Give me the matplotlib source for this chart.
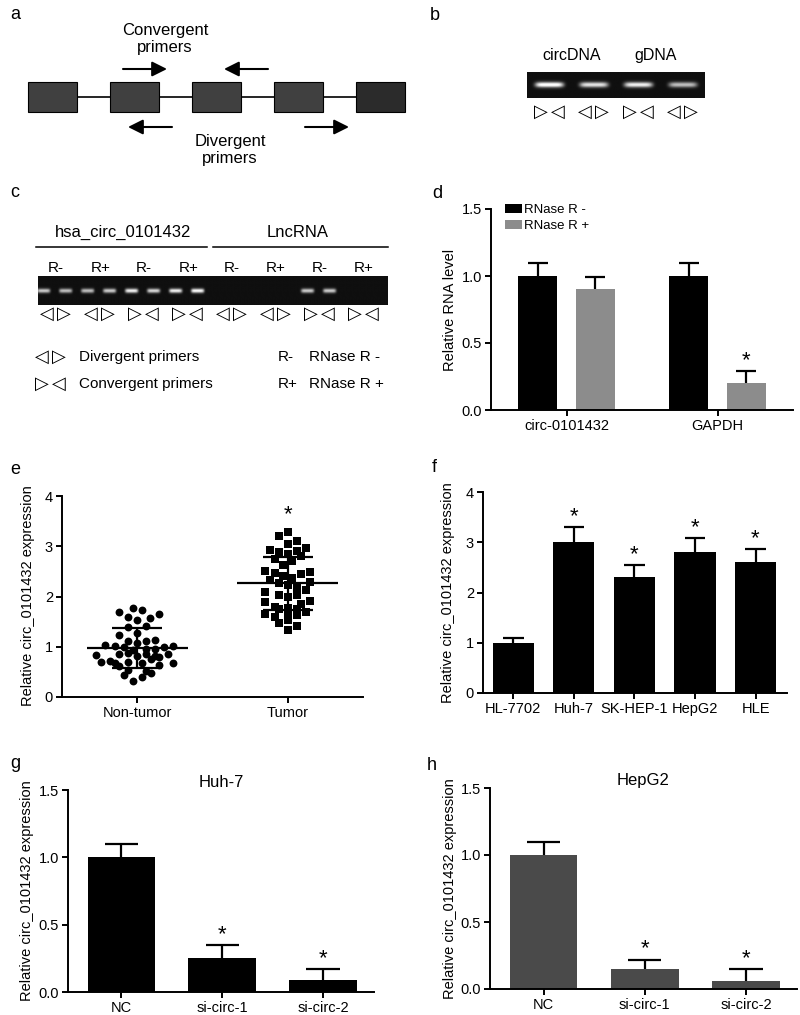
import numpy as np
import matplotlib
matplotlib.use("Agg")
import matplotlib.pyplot as plt
from matplotlib.patches import Rectangle

plt.rcParams["font.family"] = ["Liberation Sans", "DejaVu Sans"]

W, H = 800, 1015

# ---------------- data ----------------
exon_shades = ["#404040", "#404040", "#404040", "#404040", "#2b2b2b"]

gel_b_labels = ["circDNA", "gDNA"]
gel_b_bands = [1.0, 0.85, 0.9, 0.7]
gel_b_primers = ["▷◁", "◁▷", "▷◁", "◁▷"]

gel_c_groups = ["hsa_circ_0101432", "LncRNA"]
gel_c_treat = ["R-", "R+", "R-", "R+", "R-", "R+", "R-", "R+"]
gel_c_primers = ["◁▷", "◁▷", "▷◁", "▷◁", "◁▷", "◁▷", "▷◁", "▷◁"]
gel_c_bands = [0.75, 0.7, 0.7, 0.75, 0.9, 0.8, 0.9, 0.95,
               0, 0, 0, 0, 0.75, 0.75, 0, 0]

d_genes = ["circ-0101432", "GAPDH"]
d_minus = [1.0, 1.0]
d_minus_err = [0.10, 0.10]
d_plus = [0.90, 0.20]
d_plus_err = [0.09, 0.09]
d_sig = [False, True]

e_groups = ["Non-tumor", "Tumor"]
e_nontumor = [1.70, 1.78, 1.73, 1.65, 1.59, 1.58, 1.54, 1.39, 1.41, 1.23,
              1.27, 1.11, 1.14, 1.07, 1.11, 1.03, 1.01, 0.99, 0.94, 0.96,
              0.96, 0.99, 1.01, 0.84, 0.86, 0.88, 0.82, 0.86, 0.81, 0.85,
              0.70, 0.71, 0.68, 0.70, 0.68, 0.75, 0.80, 0.68, 0.61, 0.54,
              0.51, 0.48, 0.63, 0.43, 0.40, 0.32]
e_nontumor_jitter = [-0.12, -0.031, 0.029, 0.147, -0.06, 0.084, 0.0, -0.06, 0.058, -0.12,
                     0.0, -0.06, 0.118, 0.0, 0.058, -0.211, -0.151, -0.091, -0.031, 0.058,
                     0.118, 0.178, 0.24, -0.271, -0.12, -0.06, 0.0, 0.058, 0.118, 0.207,
                     -0.242, -0.182, -0.151, -0.06, 0.029, 0.089, 0.147, 0.24, -0.12, -0.06,
                     0.058, 0.089, 0.147, -0.091, 0.029, -0.031]
e_tumor = [3.28, 3.20, 3.10, 3.05, 2.93, 2.89, 2.97, 2.85, 2.90, 2.80,
           2.75, 2.70, 2.62, 2.50, 2.47, 2.44, 2.49, 2.40, 2.37, 2.32,
           2.26, 2.22, 2.29, 2.18, 2.12, 2.08, 2.02, 1.99, 2.02, 1.91,
           1.89, 1.80, 1.77, 1.76, 1.86, 1.76, 1.69, 1.66, 1.59, 1.63,
           1.63, 1.47, 1.53, 1.41, 1.33]
e_tumor_jitter = [0.0, -0.06, 0.062, 0.0, -0.12, -0.06, 0.122, 0.0, 0.062, 0.091,
                  -0.087, 0.031, -0.031, -0.149, -0.087, 0.091, 0.151, -0.031, 0.031, -0.12,
                  -0.06, 0.0, 0.151, 0.062, 0.122, -0.149, -0.06, 0.0, 0.062, 0.151,
                  -0.149, -0.087, 0.0, -0.06, 0.091, 0.062, 0.122, -0.149, -0.087, 0.0,
                  0.062, -0.06, 0.0, 0.062, 0.0]
e_mean = [0.97, 2.26]
e_sd = [0.40, 0.535]
e_sig = [False, True]

f_cells = ["HL-7702", "Huh-7", "SK-HEP-1", "HepG2", "HLE"]
f_vals = [1.0, 3.0, 2.3, 2.8, 2.6]
f_err = [0.09, 0.30, 0.25, 0.28, 0.26]
f_sig = [False, True, True, True, True]

kd_groups = ["NC", "si-circ-1", "si-circ-2"]
g_vals = [1.0, 0.25, 0.09]
g_err = [0.10, 0.10, 0.08]
h_vals = [1.0, 0.15, 0.06]
h_err = [0.10, 0.07, 0.09]
kd_sig = [False, True, True]

YLABEL_EXPR = "Relative circ_0101432 expression"


# ---------------- helpers ----------------
def px_axes(fig, left, top, right, bottom):
    return fig.add_axes([left / W, 1 - bottom / H, (right - left) / W, (bottom - top) / H])


def prism_style(ax):
    for s in ("top", "right"):
        ax.spines[s].set_visible(False)
    for s in ("left", "bottom"):
        ax.spines[s].set_linewidth(1.4)
    ax.tick_params(direction="out", length=4.5, width=1.4, labelsize=10.5, pad=2)


def up_errors(ax, x, y, err, cap_half, sig=None):
    for i, (xi, yi, ei) in enumerate(zip(x, y, err)):
        ax.vlines(xi, yi, yi + ei, color="black", lw=1.6, zorder=1)
        ax.hlines(yi + ei, xi - cap_half, xi + cap_half, color="black", lw=1.6, zorder=1)
        if sig is not None and sig[i]:
            ax.annotate("*", (xi, yi + ei), xytext=(0, 0), textcoords="offset points",
                        ha="center", va="bottom", fontsize=16)


def ylabel_px(fig, x, y, text):
    fig.text(x / W, 1 - y / H, text, rotation=90, ha="center", va="center", fontsize=10.5)


def tri_pair(ax, x, y, pair):
    # two outlined triangles drawn a few pixels apart
    for ch, dx in zip(pair, (-8.5, 8.5)):
        ax.text(x + dx, y, ch, ha="center", va="center", fontsize=13,
                family=["DejaVu Sans"])


def make_gel(ax, bands, band_w, band_h, lane_pad):
    nrow, ncol = 60, 400
    img = np.full((nrow, ncol), 0.06)
    xs = np.arange(ncol)[None, :]
    ys = np.arange(nrow)[:, None]
    centers = np.linspace(lane_pad[0], ncol - lane_pad[1], len(bands))
    for c, amp in zip(centers, bands):
        img += amp * np.exp(-((xs - c) / band_w) ** 6) * np.exp(-((ys - nrow * 0.5) / band_h) ** 2)
    ax.imshow(np.clip(img, 0, 1), cmap="gray", vmin=0, vmax=1, aspect="auto",
              interpolation="bilinear")
    ax.set_xticks([])
    ax.set_yticks([])
    for s in ax.spines.values():
        s.set_visible(False)
    return centers / ncol


fig = plt.figure(figsize=(W / 100, H / 100), dpi=100)

# ---------------- overlay for schematic panels (pixel coordinates) ----------------
ov = fig.add_axes([0, 0, 1, 1])
ov.set_xlim(0, W)
ov.set_ylim(H, 0)
ov.set_axis_off()

for lab, (lx, ly) in zip("abcdefgh", [(10, 14), (430, 15), (10, 192), (432, 193),
                                      (10, 470), (432, 467), (10, 763), (427, 765)]):
    ov.text(lx, ly, lab, fontsize=13, ha="left", va="center")

# panel a
ex_w, ex_gap, ex_x0 = 49, 33, 28
ov.plot([ex_x0 + ex_w, ex_x0 + 4 * (ex_w + ex_gap)], [97, 97], color="black", lw=1.2, zorder=1)
for i, shade in enumerate(exon_shades):
    ov.add_patch(Rectangle((ex_x0 + i * (ex_w + ex_gap), 82), ex_w, 30,
                           facecolor=shade, edgecolor="black", lw=0.8, zorder=2))
arrow_kw = dict(arrowstyle="-|>,head_length=0.9,head_width=0.45", color="black", lw=1.5,
                shrinkA=0, shrinkB=0)
for (x0, y0, x1) in [(123, 69, 167), (268, 69, 224), (172, 127, 128), (305, 127, 349)]:
    ov.annotate("", xy=(x1, y0), xytext=(x0, y0), arrowprops=arrow_kw)
ov.text(165, 39, "Convergent\nprimers", ha="center", va="center", fontsize=12, linespacing=1.15)
ov.text(230, 150, "Divergent\nprimers", ha="center", va="center", fontsize=12, linespacing=1.15)

# panel b
gb = px_axes(fig, 527, 72, 705, 98)
cb = make_gel(gb, gel_b_bands, 32, 6, (50, 50))
ov.text(572, 55, gel_b_labels[0], ha="center", va="center", fontsize=11.5)
ov.text(656, 55, gel_b_labels[1], ha="center", va="center", fontsize=11.5)
for c, prm in zip(cb, gel_b_primers):
    tri_pair(ov, 527 + c * 178, 112, prm)

# panel c
gc = px_axes(fig, 38, 276, 388, 305)
cc = make_gel(gc, gel_c_bands, 7.5, 4.5, (6, 17))
lane_px = 38 + cc * 350
pair_px = (lane_px[0::2] + lane_px[1::2]) / 2
ov.text(123, 232, gel_c_groups[0], ha="center", va="center", fontsize=12)
ov.text(298, 232, gel_c_groups[1], ha="center", va="center", fontsize=12)
ov.plot([36, 207], [247, 247], color="black", lw=1.1)
ov.plot([213, 388], [247, 247], color="black", lw=1.1)
for px, tr, prm in zip(pair_px, gel_c_treat, gel_c_primers):
    ov.text(px + 2, 268, tr, ha="center", va="center", fontsize=11)
    tri_pair(ov, px + 1, 314, prm)
tri_pair(ov, 50, 357, "◁▷")
tri_pair(ov, 50, 384, "▷◁")
ov.text(79, 357, "Divergent primers", ha="left", va="center", fontsize=11)
ov.text(79, 384, "Convergent primers", ha="left", va="center", fontsize=11)
ov.text(278, 357, "R-", ha="left", va="center", fontsize=11)
ov.text(278, 384, "R+", ha="left", va="center", fontsize=11)
ov.text(309, 357, "RNase R -", ha="left", va="center", fontsize=11)
ov.text(309, 384, "RNase R +", ha="left", va="center", fontsize=11)

# ---------------- panel d ----------------
ax = px_axes(fig, 491, 209, 793, 410)
prism_style(ax)
xg = np.arange(len(d_genes))
bw, off = 0.26, 0.19
ax.bar(xg - off, d_minus, bw, color="black", label="RNase R -", zorder=2)
ax.bar(xg + off, d_plus, bw, color="#8c8c8c", label="RNase R +", zorder=2)
up_errors(ax, xg - off, d_minus, d_minus_err, bw / 4)
up_errors(ax, xg + off, d_plus, d_plus_err, bw / 4, sig=d_sig)
ax.set_xlim(-0.5, 1.5)
ax.set_ylim(0, 1.5)
ax.set_yticks([0, 0.5, 1.0, 1.5])
ax.set_yticklabels(["0.0", "0.5", "1.0", "1.5"])
ax.set_xticks(xg)
ax.set_xticklabels(d_genes)
ax.legend(loc="upper left", bbox_to_anchor=(0.03, 1.05), frameon=False, fontsize=9.5,
          handlelength=1.3, handleheight=0.7, handletextpad=0.1, labelspacing=0.25,
          borderaxespad=0)
ylabel_px(fig, 450, 310, "Relative RNA level")

# ---------------- panel e ----------------
ax = px_axes(fig, 62, 496, 363, 697)
prism_style(ax)
ax.scatter(0 + np.array(e_nontumor_jitter), e_nontumor, s=32, marker="o", color="black",
           linewidths=0, zorder=2)
ax.scatter(1 + np.array(e_tumor_jitter), e_tumor, s=32, marker="s", color="black",
           linewidths=0, zorder=2)
for i, (m, sd) in enumerate(zip(e_mean, e_sd)):
    ax.hlines(m, i - 0.335, i + 0.335, color="black", lw=1.6, zorder=3)
    ax.hlines([m - sd, m + sd], i - 0.167, i + 0.167, color="black", lw=1.6, zorder=3)
    ax.vlines(i, m - sd, m + sd, color="black", lw=1.6, zorder=3)
    if e_sig[i]:
        ax.text(i, 3.42, "*", ha="center", va="bottom", fontsize=16)
ax.set_xlim(-0.5, 1.5)
ax.set_ylim(0, 4)
ax.set_yticks([0, 1, 2, 3, 4])
ax.set_xticks([0, 1])
ax.set_xticklabels(e_groups)
ylabel_px(fig, 28, 596, YLABEL_EXPR)

# ---------------- panel f ----------------
ax = px_axes(fig, 483, 492, 787, 693)
prism_style(ax)
xf = np.arange(len(f_cells))
ax.bar(xf, f_vals, 0.68, color="black", zorder=2)
up_errors(ax, xf, f_vals, f_err, 0.17, sig=f_sig)
ax.set_xlim(-0.5, 4.52)
ax.set_ylim(0, 4)
ax.set_yticks([0, 1, 2, 3, 4])
ax.set_xticks(xf)
ax.set_xticklabels(f_cells)
ylabel_px(fig, 448, 593, YLABEL_EXPR)

# ---------------- panels g and h ----------------
for (l, t, r, b), vals, errs, color, title, ylx in [
        ((68, 790, 374, 992), g_vals, g_err, "black", "Huh-7", 27),
        ((490, 788, 797, 989), h_vals, h_err, "#4a4a4a", "HepG2", 450)]:
    ax = px_axes(fig, l, t, r, b)
    prism_style(ax)
    xk = np.arange(len(kd_groups))
    ax.bar(xk, vals, 0.67, color=color, zorder=2)
    up_errors(ax, xk, vals, errs, 0.165, sig=kd_sig)
    ax.set_xlim(-0.53, 2.505)
    ax.set_ylim(0, 1.5)
    ax.set_yticks([0, 0.5, 1.0, 1.5])
    ax.set_yticklabels(["0.0", "0.5", "1.0", "1.5"])
    ax.set_xticks(xk)
    ax.set_xticklabels(kd_groups)
    ax.set_title(title, fontsize=12, pad=-2)
    ylabel_px(fig, ylx, (t + b) / 2, YLABEL_EXPR)

fig.savefig("out.png", dpi=100)
